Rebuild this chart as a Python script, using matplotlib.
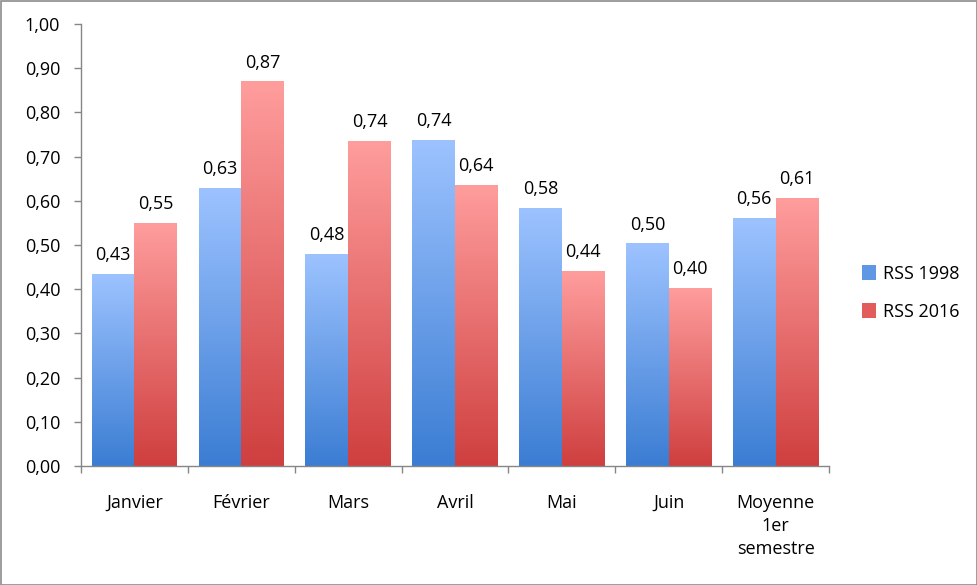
import matplotlib
matplotlib.use('Agg')
import matplotlib.pyplot as plt
import matplotlib.colors as mcolors
from matplotlib.patches import Rectangle, Patch
import numpy as np

plt.rcParams['font.family'] = ['Open Sans', 'DejaVu Sans']

categories = ['Janvier', 'Février', 'Mars', 'Avril', 'Mai', 'Juin', 'Moyenne\n1er\nsemestre']
rss_1998 = [0.435, 0.629, 0.480, 0.738, 0.584, 0.504, 0.561]
rss_2016 = [0.550, 0.870, 0.736, 0.636, 0.441, 0.403, 0.606]
series_names = ['RSS 1998', 'RSS 2016']

# gradient (top colour, bottom colour)
blue_grad = ('#9dc3ff', '#3b7dd3')
red_grad = ('#ff9d9d', '#cf3f3f')

fig = plt.figure(figsize=(9.78, 5.85), dpi=100)
ax = fig.add_axes([81 / 978, 1 - 466 / 585, (829 - 81) / 978, (466 - 24) / 585])

x = np.arange(len(categories))
w = 0.40
bars_a = ax.bar(x - w / 2, rss_1998, w, color='none', edgecolor='none')
bars_b = ax.bar(x + w / 2, rss_2016, w, color='none', edgecolor='none')

def fill_gradient(bars, grad):
    cmap = mcolors.LinearSegmentedColormap.from_list('g', [grad[1], grad[0]])
    grad_img = np.linspace(0, 1, 256).reshape(-1, 1)
    for b in bars:
        x0, y0 = b.get_x(), b.get_y()
        bw, bh = b.get_width(), b.get_height()
        im = ax.imshow(grad_img, cmap=cmap, origin='lower', aspect='auto',
                       extent=[x0, x0 + bw, y0, y0 + bh], zorder=2,
                       interpolation='bicubic')
        im.set_clip_path(b)

fill_gradient(bars_a, blue_grad)
fill_gradient(bars_b, red_grad)

for bars in (bars_a, bars_b):
    for b in bars:
        ax.annotate(f'{b.get_height():.2f}'.replace('.', ','),
                    (b.get_x() + b.get_width() / 2, b.get_height()),
                    xytext=(0, 7), textcoords='offset points',
                    ha='center', va='bottom', fontsize=13)

ax.set_xlim(-0.5, len(categories) - 0.5)
ax.set_ylim(0, 1.0)
yt = np.round(np.arange(0, 1.01, 0.1), 2)
ax.set_yticks(yt)
ax.set_yticklabels([f'{v:.2f}'.replace('.', ',') for v in yt], fontsize=13)
ax.tick_params(axis='y', length=5, width=1, color='#868686', pad=10)

ax.set_xticks(np.arange(-0.5, len(categories), 1.0))
ax.set_xticklabels([])
ax.set_xticks(x, minor=True)
ax.set_xticklabels(categories, minor=True, fontsize=13, linespacing=1.35, va='top')
ax.tick_params(axis='x', which='major', length=5, width=1, color='#868686', direction='out')
ax.tick_params(axis='x', which='minor', length=0, pad=20)

for s in ('top', 'right'):
    ax.spines[s].set_visible(False)
for s in ('left', 'bottom'):
    ax.spines[s].set_color('#868686')
    ax.spines[s].set_linewidth(1)

handles = [Patch(facecolor='#5f97e4', edgecolor='none'),
           Patch(facecolor='#e35c5c', edgecolor='none')]
fig.legend(handles, series_names, loc='center left', bbox_to_anchor=(846 / 978, 1 - 293 / 585),
           frameon=False, fontsize=13, handlelength=0.75, handleheight=0.9,
           handletextpad=0.4, labelspacing=1.1)

fig.patches.append(Rectangle((0.5 / 978, 0.5 / 585), 1 - 1.5 / 978, 1 - 1.5 / 585,
                             transform=fig.transFigure, fill=False,
                             edgecolor='#8c8c8c', linewidth=1.2))

fig.savefig('out.png', dpi=100)
